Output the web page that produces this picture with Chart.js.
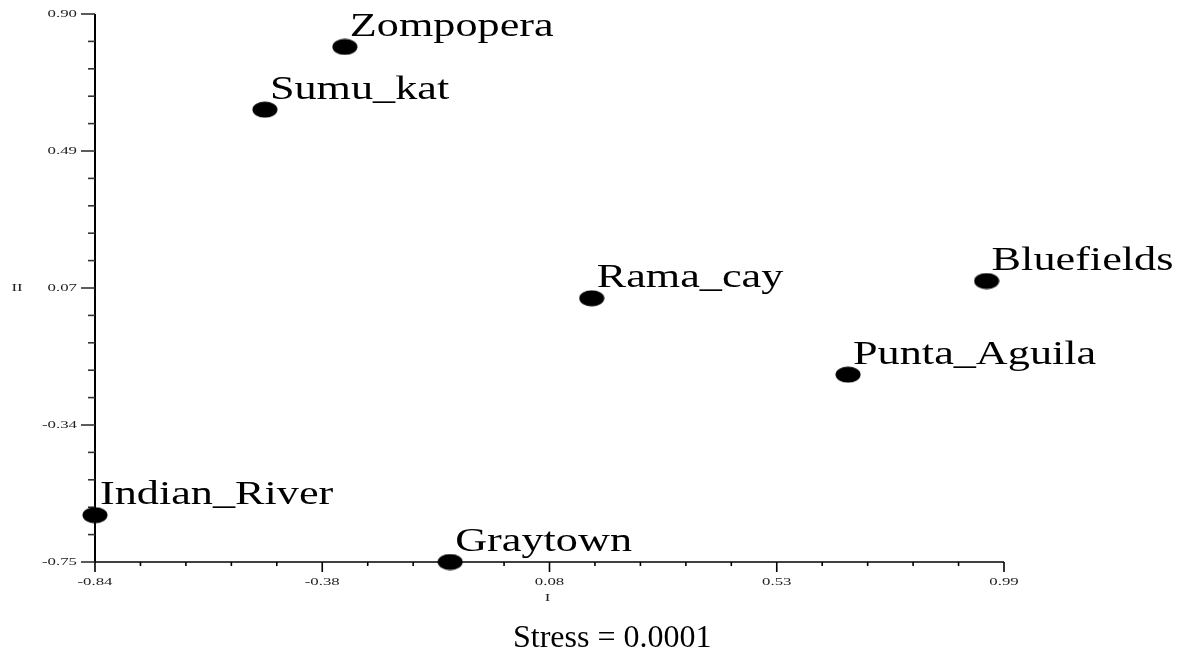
<!DOCTYPE html>
<html>
<head>
<meta charset="utf-8">
<title>MDS configuration</title>
<script src="https://cdn.jsdelivr.net/npm/chart.js@4/dist/chart.umd.min.js"></script>
<style>
  html, body { margin: 0; padding: 0; background: #fff; }
  #wrap { width: 1181px; height: 651px; position: relative; }
</style>
</head>
<body>
<div id="wrap"><canvas id="mds"></canvas></div>
<script>
// MDS site map, dimensions I x II
const sites = ["Zompopera", "Sumu_kat", "Rama_cay", "Bluefields", "Punta_Aguila", "Indian_River", "Graytown"];
const dimI  = [-0.337, -0.498, 0.160, 0.955, 0.676, -0.840, -0.125];
const dimII = [0.801, 0.612, 0.044, 0.096, -0.186, -0.609, -0.750];

const xTicks = [-0.84, -0.3825, 0.075, 0.5325, 0.99];
const xTickLabels = ["-0.84", "-0.38", "0.08", "0.53", "0.99"];
const yTicks = [-0.75, -0.3375, 0.075, 0.4875, 0.90];
const yTickLabels = ["-0.75", "-0.34", "0.07", "0.49", "0.90"];
const stressText = "Stress = 0.0001";

const SERIF = '"Liberation Serif", "Times New Roman", serif';
const MINOR = 4; // minor ticks between majors

// filled ellipse used as the point marker
function dot() {
  const c = document.createElement("canvas");
  c.width = 26; c.height = 17;
  const g = c.getContext("2d");
  g.fillStyle = "#000";
  g.beginPath(); g.ellipse(13, 8.5, 12.5, 8, 0, 0, Math.PI * 2); g.fill();
  return c;
}

// text squeezed/stretched horizontally
function wideText(ctx, txt, x, y, sx, align) {
  ctx.save();
  ctx.translate(x, y); ctx.scale(sx, 1);
  ctx.textAlign = align || "left";
  ctx.fillText(txt, 0, 0);
  ctx.restore();
}

const axesPlugin = {
  id: "mdsAxes",
  beforeDatasetsDraw(chart) {
    const { ctx, chartArea: a, scales: { x, y } } = chart;
    ctx.save();
    // axis lines
    ctx.strokeStyle = "#000";
    ctx.lineWidth = 2;
    ctx.beginPath(); ctx.moveTo(a.left, a.top); ctx.lineTo(a.left, a.bottom); ctx.stroke();
    ctx.lineWidth = 1.6;
    ctx.beginPath(); ctx.moveTo(a.left, a.bottom); ctx.lineTo(a.right, a.bottom); ctx.stroke();

    // y ticks
    ctx.strokeStyle = "#333"; ctx.lineWidth = 1.6;
    yTicks.forEach((v, i) => {
      const py = y.getPixelForValue(v);
      ctx.beginPath(); ctx.moveTo(a.left - 14, py); ctx.lineTo(a.left, py); ctx.stroke();
      if (i < yTicks.length - 1) {
        const step = (yTicks[i + 1] - v) / (MINOR + 1);
        for (let k = 1; k <= MINOR; k++) {
          const my = y.getPixelForValue(v + step * k);
          ctx.beginPath(); ctx.moveTo(a.left - 7, my); ctx.lineTo(a.left, my); ctx.stroke();
        }
      }
    });
    // x ticks
    ctx.strokeStyle = "#000";
    xTicks.forEach((v, i) => {
      const px = x.getPixelForValue(v);
      ctx.beginPath(); ctx.moveTo(px, a.bottom); ctx.lineTo(px, a.bottom + 10); ctx.stroke();
      if (i < xTicks.length - 1) {
        const step = (xTicks[i + 1] - v) / (MINOR + 1);
        for (let k = 1; k <= MINOR; k++) {
          const mx = x.getPixelForValue(v + step * k);
          ctx.beginPath(); ctx.moveTo(mx, a.bottom); ctx.lineTo(mx, a.bottom + 4); ctx.stroke();
        }
      }
    });

    // tick labels
    ctx.fillStyle = "#222";
    ctx.font = "10.5px " + SERIF;
    ctx.textBaseline = "middle";
    yTicks.forEach((v, i) => wideText(ctx, yTickLabels[i], a.left - 18, y.getPixelForValue(v), 1.6, "right"));
    xTicks.forEach((v, i) => wideText(ctx, xTickLabels[i], x.getPixelForValue(v), a.bottom + 20, 1.6, "center"));

    // axis titles
    wideText(ctx, "I", (a.left + a.right) / 2 - 2, a.bottom + 36, 1.6, "center");
    wideText(ctx, "II", 17, y.getPixelForValue(0.075), 1.6, "center");
    ctx.restore();
  },
  afterDatasetsDraw(chart) {
    const { ctx } = chart;
    const pts = chart.getDatasetMeta(0).data;
    ctx.save();
    ctx.fillStyle = "#000";
    ctx.font = "33px " + SERIF;
    ctx.textBaseline = "alphabetic";
    pts.forEach((p, i) => wideText(ctx, sites[i], p.x + 5, p.y - 11, 1.34, "left"));

    ctx.font = "32px " + SERIF;
    ctx.textAlign = "left";
    ctx.fillText(stressText, 513, 647);
    ctx.restore();
  }
};

new Chart(document.getElementById("mds"), {
  type: "scatter",
  data: {
    datasets: [{
      data: dimI.map((v, i) => ({ x: v, y: dimII[i] })),
      pointStyle: dot(),
      pointRadius: 12,
      clip: false
    }]
  },
  options: {
    responsive: true,
    maintainAspectRatio: false,
    animation: false,
    layout: { padding: { left: 95, right: 177, top: 14, bottom: 89 } },
    plugins: { legend: { display: false }, tooltip: { enabled: false } },
    scales: {
      x: { type: "linear", min: -0.84, max: 0.99, display: false },
      y: { type: "linear", min: -0.75, max: 0.90, display: false }
    }
  },
  plugins: [axesPlugin]
});
</script>
</body>
</html>
